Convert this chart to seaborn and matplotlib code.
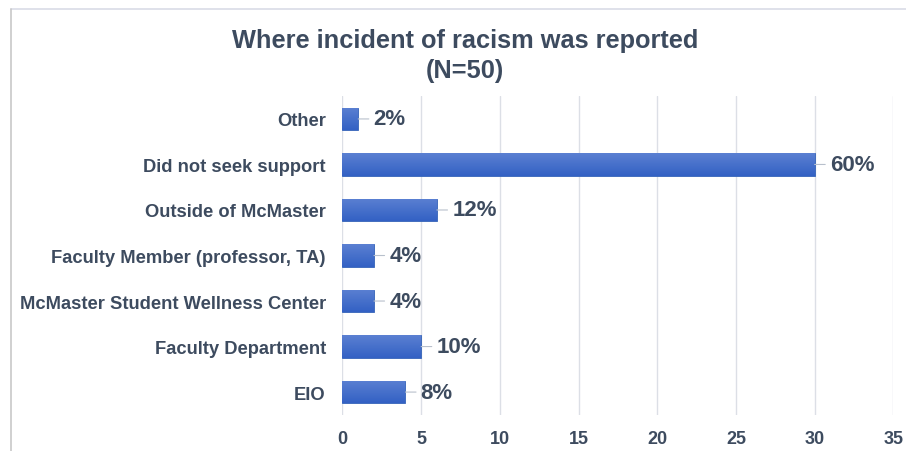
import matplotlib
matplotlib.use("Agg")
import matplotlib.pyplot as plt
from matplotlib.lines import Line2D
from matplotlib.colors import LinearSegmentedColormap
import numpy as np
import seaborn as sns
import pandas as pd

# data (counts out of N=50)
categories = ["Other", "Did not seek support", "Outside of McMaster",
              "Faculty Member (professor, TA)", "McMaster Student Wellness Center",
              "Faculty Department", "EIO"]
counts = [1, 30, 6, 2, 2, 5, 4]
pct_labels = ["2%", "60%", "12%", "4%", "4%", "10%", "8%"]

df = pd.DataFrame({"where": categories, "count": counts})

sns.set_theme(style="whitegrid")
plt.rcParams['font.family'] = ['Liberation Sans', 'DejaVu Sans']

txt = "#3d4b5f"
fig = plt.figure(figsize=(9.06, 4.52), dpi=100)
ax = fig.add_axes([0.378, 0.08, 0.608, 0.705])

sns.barplot(data=df, x="count", y="where", color="#4171c8", width=0.5,
            saturation=1, edgecolor="#3563b8", linewidth=0.6, ax=ax)

ax.set_xlim(0, 35)
ylim = ax.get_ylim()

# vertical gradient fill inside each bar (lighter top, darker bottom)
grad_cmap = LinearSegmentedColormap.from_list("barblue", ["#5b80d2", "#3361c4"])
grad = np.linspace(0, 1, 64).reshape(-1, 1)
for p in ax.patches:
    x0, y0 = p.get_x(), p.get_y()
    w, h = p.get_width(), p.get_height()
    im = ax.imshow(grad, cmap=grad_cmap, aspect="auto",
                   extent=(x0, x0 + w, y0 + h, y0), zorder=p.get_zorder() + 0.1)
    im.set_clip_path(p)
ax.set_xlim(0, 35)
ax.set_ylim(ylim)

ax.set_xticks(range(0, 36, 5))
ax.set_xlabel("")
ax.set_ylabel("")
ax.grid(axis="x", color="#dcdfe6", linewidth=1)
ax.grid(axis="y", visible=False)
for s in ax.spines.values():
    s.set_visible(False)
ax.tick_params(axis="x", length=0, labelsize=13, labelcolor=txt, pad=11)
ax.tick_params(axis="y", length=0, labelsize=13.2, labelcolor=txt, pad=12)
for lab in ax.get_xticklabels() + ax.get_yticklabels():
    lab.set_fontweight("bold")

# data labels with short leader lines
for i, (c, lab) in enumerate(zip(counts, pct_labels)):
    ax.annotate(lab, xy=(c, i), xytext=(11, 0), textcoords="offset points",
                ha="left", va="center", fontsize=16, fontweight="bold", color=txt,
                arrowprops=dict(arrowstyle="-", color="#b8c0cc", lw=0.8,
                                shrinkA=1, shrinkB=0))

fig.text(0.513, 0.91, "Where incident of racism was reported", ha="center",
         va="center", fontsize=18.3, fontweight="bold", color=txt)
fig.text(0.513, 0.842, "(N=50)", ha="center", va="center",
         fontsize=18.3, fontweight="bold", color=txt)

# light frame lines (top and left)
fig.add_artist(Line2D([0.012, 1.0], [0.978, 0.978], transform=fig.transFigure,
                      color="#d9dce6", lw=1.2))
fig.add_artist(Line2D([0.012, 0.012], [0.0, 0.978], transform=fig.transFigure,
                      color="#c8c8c8", lw=1.2))

fig.savefig("out.png", dpi=100, facecolor="white")
